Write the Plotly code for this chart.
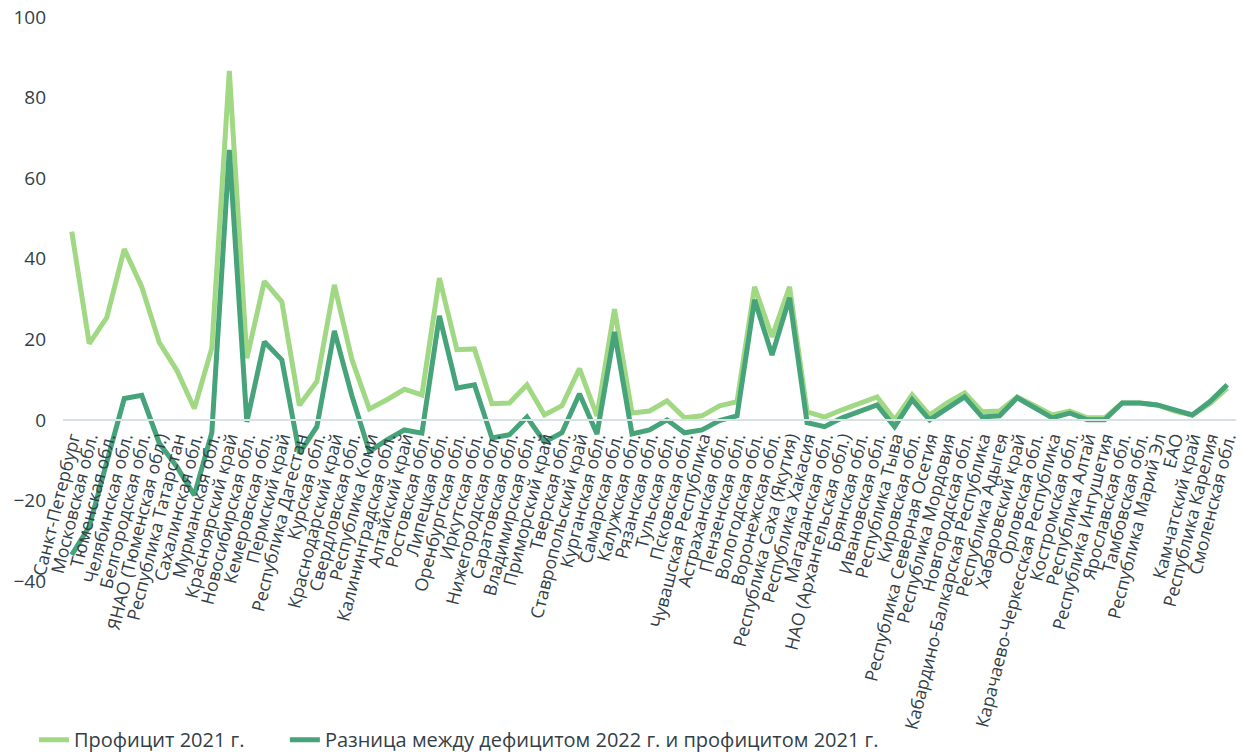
import plotly.graph_objects as go

regions = [
    "Санкт-Петербург", "Московская обл.", "Тюменская обл.", "Челябинская обл.",
    "Белгородская обл.", "ЯНАО (Тюменская обл.)", "Республика Татарстан",
    "Сахалинская обл.", "Мурманская обл.", "Красноярский край", "Новосибирская обл.",
    "Кемеровская обл.", "Пермский край", "Республика Дагестан", "Курская обл.",
    "Краснодарский край", "Свердловская обл.", "Республика Коми",
    "Калининградская обл.", "Алтайский край", "Ростовская обл.", "Липецкая обл.",
    "Оренбургская обл.", "Иркутская обл.", "Нижегородская обл.", "Саратовская обл.",
    "Владимирская обл.", "Приморский край", "Тверская обл.", "Ставропольский край",
    "Курганская обл.", "Самарская обл.", "Калужская обл.", "Рязанская обл.",
    "Тульская обл.", "Псковская обл.", "Чувашская Республика", "Астраханская обл.",
    "Пензенская обл.", "Вологодская обл.", "Воронежская обл.",
    "Республика Саха (Якутия)", "Республика Хакасия", "Магаданская обл.",
    "НАО (Архангельская обл.)", "Брянская обл.", "Ивановская обл.", "Республика Тыва",
    "Кировская обл.", "Республика Северная Осетия", "Республика Мордовия",
    "Новгородская обл.", "Кабардино-Балкарская Республика", "Республика Адыгея",
    "Хабаровский край", "Орловская обл.", "Карачаево-Черкесская Республика",
    "Костромская обл.", "Республика Алтай", "Республика Ингушетия",
    "Ярославская обл.", "Тамбовская обл.", "Республика Марий Эл", "ЕАО",
    "Камчатский край", "Республика Карелия", "Смоленская обл.",
]

surplus_2021 = [
    46.7, 18.9, 25.4, 42.4, 33.0, 19.2, 12.3, 2.8, 17.8, 86.6,
    15.3, 34.4, 29.3, 3.6, 9.5, 33.5, 15.0, 2.7, 5.0, 7.6,
    6.2, 35.2, 17.4, 17.6, 4.0, 4.2, 8.7, 1.2, 3.5, 12.7,
    1.0, 27.5, 1.7, 2.2, 4.7, 0.5, 1.0, 3.5, 4.5, 33.0,
    20.6, 33.0, 2.0, 0.7, 2.5, 4.0, 5.7, 0.0, 6.2, 1.2,
    4.2, 6.7, 2.0, 2.2, 5.7, 3.5, 1.2, 2.2, 0.5, 0.5,
    4.2, 4.2, 3.7, 2.2, 1.2, 4.0, 7.9,
]

diff_2022_2021 = [
    -33.5, -26.5, -10.5, 5.3, 6.1, -5.8, -11.6, -18.7, -3.2, 67.0,
    -0.5, 19.4, 14.9, -8.3, -1.7, 22.1, 6.0, -7.9, -5.0, -2.5,
    -3.3, 25.8, 7.9, 8.7, -4.5, -3.7, 0.7, -5.5, -3.2, 6.5,
    -3.5, 21.8, -3.5, -2.5, 0.0, -3.2, -2.5, -0.2, 1.0, 29.8,
    16.1, 30.3, -0.7, -1.7, 0.5, 2.0, 3.7, -1.7, 5.0, 0.0,
    3.0, 5.7, 0.7, 1.0, 5.5, 3.0, 0.5, 1.7, 0.0, 0.0,
    4.2, 4.2, 3.7, 2.5, 1.2, 4.5, 8.7,
]

y_ticks = [-40, -20, 0, 20, 40, 60, 80, 100]

light = "#a1d884"
dark = "#46a37a"
text_col = "#333f48"

fig = go.Figure()
fig.add_trace(go.Scatter(
    x=regions, y=surplus_2021, mode="lines", name="Профицит 2021 г.",
    line=dict(color=light, width=5), legend="legend",
))
fig.add_trace(go.Scatter(
    x=regions, y=diff_2022_2021, mode="lines",
    name="Разница между дефицитом 2022 г. и профицитом 2021 г.",
    line=dict(color=dark, width=5), legend="legend2",
))

legend_common = dict(
    orientation="h", xref="container", yref="container",
    xanchor="left", y=0.019, yanchor="middle",
    font=dict(size=20, color=text_col), bgcolor="rgba(0,0,0,0)",
)

ymin, ymax = -40, 100
fig.update_layout(
    width=1244, height=754,
    margin=dict(l=63, r=8, t=17, b=173),
    paper_bgcolor="white", plot_bgcolor="white",
    font=dict(family="Open Sans", color=text_col, size=17),
    showlegend=True,
    legend=dict(x=0.0273, **legend_common),
    legend2=dict(x=0.229, **legend_common),
    xaxis=dict(
        type="category", range=[-0.5, len(regions) - 0.5],
        tickmode="array", tickvals=regions, ticktext=regions,
        anchor="free", position=(0 - ymin) / (ymax - ymin),
        showline=True, linecolor="#d8e2e6", linewidth=2,
        showgrid=False, zeroline=False, ticks="", automargin=False,
        tickangle=-76, tickfont=dict(size=17.8, color=text_col),
    ),
    yaxis=dict(
        range=[ymin, ymax], tickvals=y_ticks, showgrid=False, zeroline=False,
        showline=False, ticks="", automargin=False, ticklabelstandoff=16,
        tickfont=dict(size=19, color=text_col),
    ),
)

# remove the default page margin so the figure fills the window exactly
fig.write_html(
    "out.html",
    config={"displayModeBar": False},
    post_script="document.body.style.margin='0';",
)
